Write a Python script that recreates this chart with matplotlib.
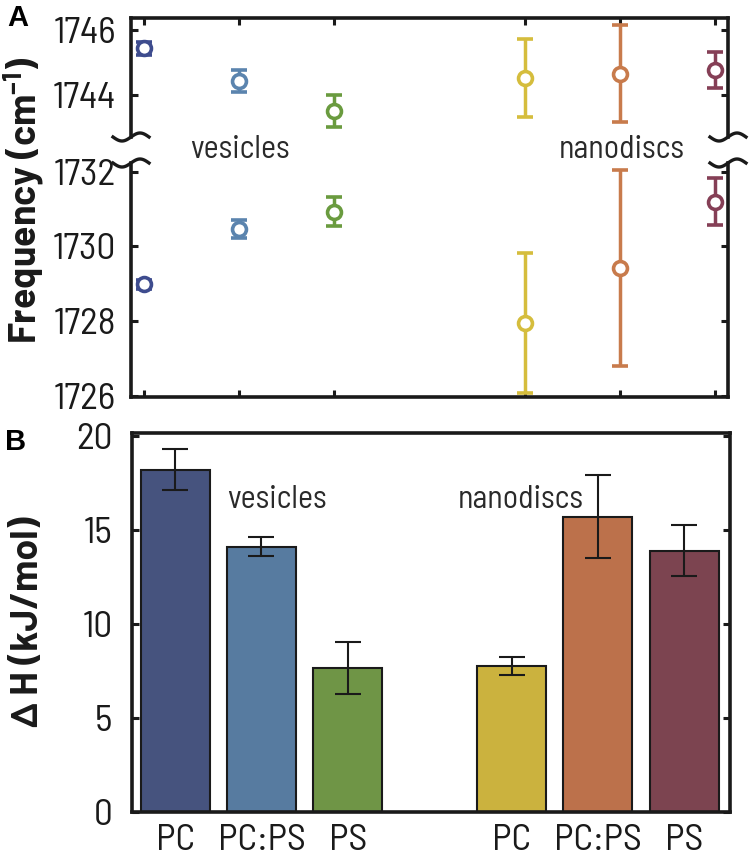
import numpy as np
import matplotlib
matplotlib.use('Agg')
import matplotlib.pyplot as plt
from matplotlib.lines import Line2D

plt.rcParams['font.family'] = ['Barlow Semi Condensed', 'DejaVu Sans']
plt.rcParams['mathtext.default'] = 'regular'

# data
lipids = ['PC', 'PC:PS', 'PS', 'PC', 'PC:PS', 'PS']
freq_high = [1745.44, 1744.43, 1743.51, 1744.52, 1744.65, 1744.77]
freq_high_err = [0.20, 0.34, 0.49, 1.20, 1.49, 0.54]
freq_low = [1728.98, 1730.46, 1730.93, 1727.96, 1729.42, 1731.20]
freq_low_err = [0.12, 0.24, 0.38, 1.87, 2.63, 0.62]
dH = [18.2, 14.1, 7.66, 7.77, 15.7, 13.9]
dH_err = [1.1, 0.5, 1.36, 0.48, 2.2, 1.35]

marker_colors = ['#3E4C8E', '#5B84AE', '#6A9B3F', '#D5BD3D', '#C87B4C', '#853F56']
bar_colors = ['#46537E', '#577BA0', '#6F9546', '#CBB23E', '#BC714B', '#7C4450']

W, H = 751, 861
fig = plt.figure(figsize=(W / 100, H / 100), dpi=100)

def fx(px):
    return px / W

def fy(py):
    return 1 - py / H

xa = np.array([1, 2, 3, 5, 6, 7])
xb = np.array([1, 2, 3, 4.9, 5.9, 6.9])

tick_fs = 27
lw_sp = 2.6
txt_c = '#1a1a1a'

ax_hi = fig.add_axes([fx(131), fy(137), fx(728 - 131), fy(18) - fy(137)])
ax_lo = fig.add_axes([fx(131), fy(397), fx(728 - 131), fy(163) - fy(397)])

for ax, vals, errs in [(ax_hi, freq_high, freq_high_err), (ax_lo, freq_low, freq_low_err)]:
    for i in range(len(xa)):
        ax.errorbar(xa[i], vals[i], yerr=errs[i], fmt='o', ms=10, mfc='white',
                    mec=marker_colors[i], mew=2.6, ecolor=marker_colors[i],
                    elinewidth=2.5, capsize=6, capthick=2.5, zorder=3)
    ax.set_xlim(0.86, 7.14)
    ax.set_xticks(xa)
    ax.tick_params(direction='in', length=5, width=2.2, labelsize=tick_fs,
                   left=True, right=True, pad=11, colors=txt_c)
    ax.tick_params(axis='x', labelbottom=False, labeltop=False)
    for s in ax.spines.values():
        s.set_linewidth(lw_sp)
        s.set_color(txt_c)

ax_hi.set_ylim(1742.71, 1746.37)
ax_hi.set_yticks([1744, 1746])
ax_hi.spines['bottom'].set_visible(False)
ax_hi.tick_params(axis='x', top=True, bottom=False)

ax_lo.set_ylim(1725.97, 1732.23)
ax_lo.set_yticks([1726, 1728, 1730, 1732])
ax_lo.spines['top'].set_visible(False)
ax_lo.tick_params(axis='x', top=False, bottom=True)

# break marks
t = np.linspace(-1, 1, 40)
for xc in [131, 728]:
    for yc in [137, 163]:
        xs = xc + 18 * t
        ys = yc - 4 * np.sin(np.pi * t)
        fig.add_artist(Line2D(fx(xs), fy(ys), color=txt_c, lw=2.4,
                              transform=fig.transFigure))

fig.text(fx(240), fy(150), 'vesicles', fontsize=23, ha='center', va='center', color='#2a2a2a')
fig.text(fx(622), fy(150), 'nanodiscs', fontsize=23, ha='center', va='center', color='#2a2a2a')
fig.text(fx(24), fy(200), 'Frequency (cm$^{-1}$)', fontsize=27, fontweight='bold',
         rotation=90, ha='center', va='center', color=txt_c, family=['Barlow', 'DejaVu Sans'])
fig.text(fx(7), fy(18), 'A', fontsize=21, fontweight='bold', ha='left', va='center',
         family=['Liberation Sans', 'DejaVu Sans'])

# panel B
ax_b = fig.add_axes([fx(132), fy(812), fx(730 - 132), fy(433) - fy(812)])
ax_b.bar(xb, dH, width=0.8, color=bar_colors, edgecolor=txt_c, linewidth=1.5, zorder=2)
ax_b.errorbar(xb, dH, yerr=dH_err, fmt='none', ecolor=txt_c, elinewidth=1.5,
              capsize=9.5, capthick=1.5, zorder=3)
ax_b.set_xlim(0.5, 7.43)
ax_b.set_ylim(0, 20.15)
ax_b.set_yticks([0, 5, 10, 15, 20])
ax_b.set_xticks(xb)
ax_b.set_xticklabels(lipids)
ax_b.tick_params(axis='y', direction='in', length=5, width=2.2, labelsize=tick_fs,
                 left=True, right=True, pad=14, colors=txt_c)
ax_b.tick_params(axis='x', length=0, labelsize=tick_fs, pad=9, colors=txt_c)
for s in ax_b.spines.values():
    s.set_linewidth(lw_sp)
    s.set_color(txt_c)

fig.text(fx(277), fy(500), 'vesicles', fontsize=23, ha='center', va='center', color='#2a2a2a')
fig.text(fx(521), fy(500), 'nanodiscs', fontsize=23, ha='center', va='center', color='#2a2a2a')
fig.text(fx(28), fy(622), '\u0394 H (kJ/mol)', fontsize=27, fontweight='bold',
         rotation=90, ha='center', va='center', color=txt_c, family=['Barlow', 'DejaVu Sans'])
fig.text(fx(5), fy(442), 'B', fontsize=21, fontweight='bold', ha='left', va='center',
         family=['Liberation Sans', 'DejaVu Sans'])

fig.savefig('out.png', dpi=100)
